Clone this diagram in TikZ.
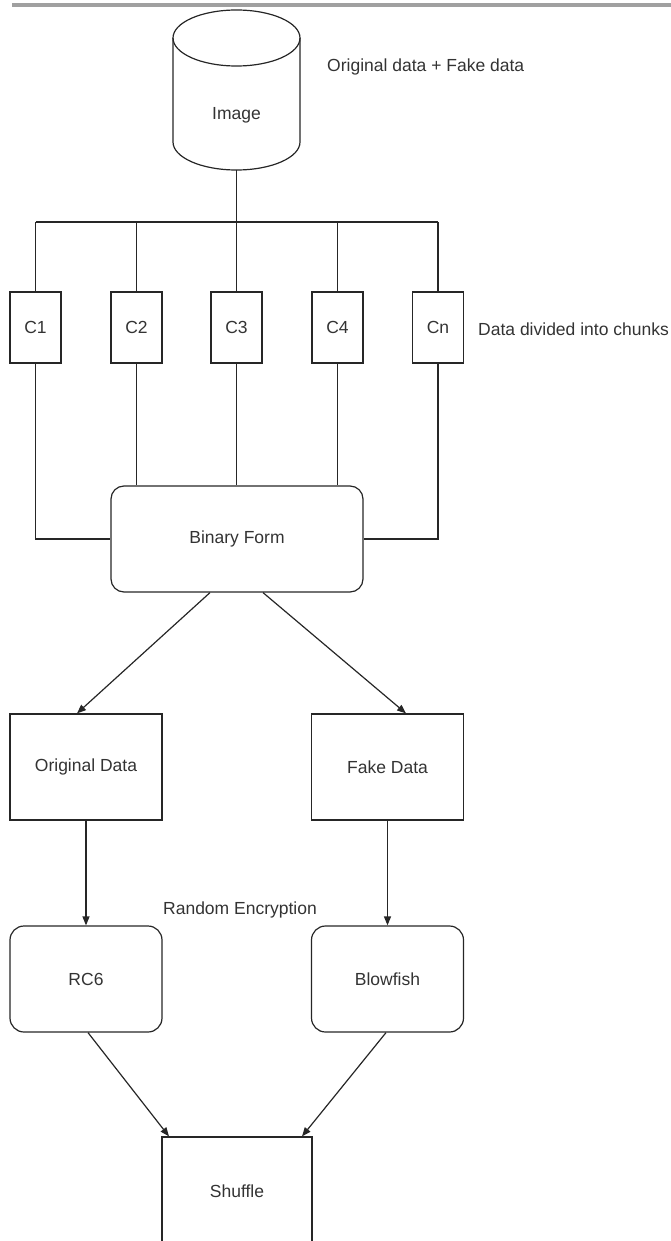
\documentclass[tikz,border=0pt]{standalone}
\usepackage{fontspec}
\setmainfont{Liberation Sans}
\usetikzlibrary{arrows.meta}
\definecolor{ink}{HTML}{262626}
\definecolor{txt}{HTML}{333333}
\definecolor{bar}{HTML}{A0A0A0}
\tikzset{
	wire/.style={draw=ink,line width=1.2pt},
	arr/.style={wire,-{Triangle[length=9pt,width=7pt]}},
	note/.style={text=txt,inner sep=0pt,font=\fontsize{17.5}{21}\selectfont},
	box/.style={note,draw=ink,line width=1.2pt},
	chunk/.style={box,minimum width=51pt,minimum height=71pt},
	datbox/.style={box,minimum width=152pt,minimum height=106pt},
	algbox/.style={datbox,rounded corners=14pt}
}
\begin{document}
\begin{tikzpicture}[x=1pt,y=-1pt]
\useasboundingbox (0,0) rectangle (671,1241);
\clip (0,0) rectangle (671,1241);
\fill[bar] (12,3) rectangle (671,7);
\draw[wire] (173,38) -- (173,142) arc[start angle=180,end angle=0,x radius=63.5,y radius=28] -- (300,38);
\draw[wire] (236.5,38) ellipse[x radius=63.5,y radius=28];
\node[note] (img) at (236.5,115) {Image};
\coordinate[] (imgb) at (236.5,170);
\coordinate[] (bus) at (236.5,222);
\node[note,anchor=west] (mix) at (327,67) {Original data + Fake data};
\foreach \n/\x/\t in {c1/35.5/C1,c2/136.5/C2,c3/236.5/C3,c4/337.5/C4,cn/438/Cn}
	\node[chunk] (\n) at (\x,327.5) {\t};
\node[note,anchor=west] (split) at (478,329) {Data divided into chunks};
\node[algbox,minimum width=252pt,rounded corners=13pt] (bin) at (237,539) {Binary Form};
\node[datbox] (orig) at (86,767) {Original Data};
\node[datbox] (fake) at (387.5,767) {Fake Data};
\node[algbox] (rc6) at (86,979) {RC6};
\node[algbox] (blow) at (387.5,979) {Blowfish};
\node[note] (rand) at (240,910) {Random Encryption};
\node[box,minimum width=150pt,minimum height=108pt] (shuf) at (237,1191) {Shuffle};
\draw[wire] (imgb) -- (bus);
\draw[wire] (c1.north |- bus) -- (cn.north |- bus);
\foreach \n in {c1,c2,c3,c4,cn}
	\draw[wire] (\n.north) -- (\n.north |- bus);
\foreach \n in {c2,c3,c4}
	\draw[wire] (\n.south) -- (\n.south |- bin.north);
\draw[wire] (c1.south) |- (bin.west);
\draw[wire] (cn.south) |- (bin.east);
\draw[arr] ([xshift=-27pt]bin.south) -- ([xshift=-9pt]orig.north);
\draw[arr] ([xshift=26pt]bin.south) -- ([xshift=18.5pt]fake.north);
\draw[arr] (orig.south) -- (rc6.north);
\draw[arr] (fake.south) -- (blow.north);
\draw[arr] ([xshift=2pt]rc6.south) -- ([xshift=-68pt]shuf.north);
\draw[arr] ([xshift=-1.5pt]blow.south) -- ([xshift=65pt]shuf.north);
\end{tikzpicture}
\end{document}
